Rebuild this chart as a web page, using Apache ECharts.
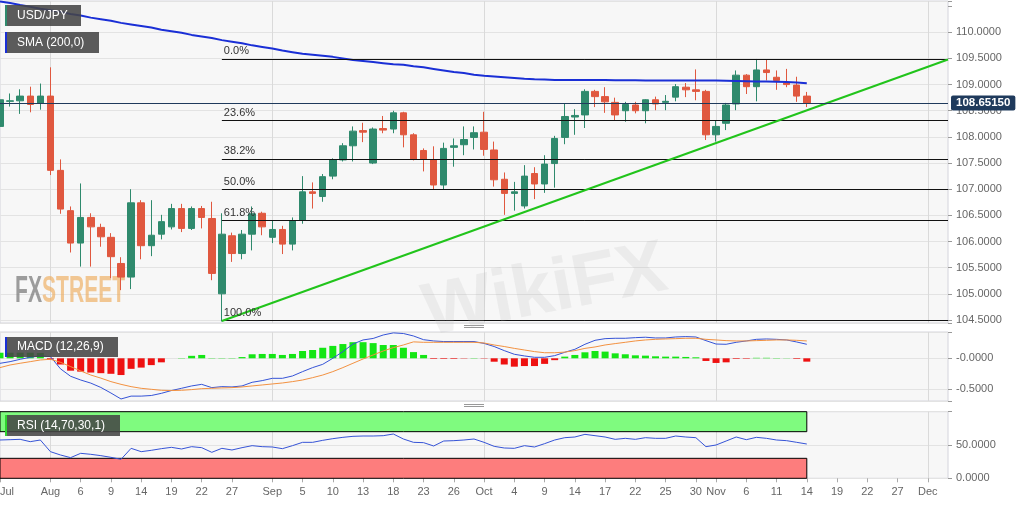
<!DOCTYPE html>
<html>
<head>
<meta charset="utf-8">
<title>USD/JPY</title>
<script src="https://cdn.jsdelivr.net/npm/echarts@6.0.0/dist/echarts.min.js"></script>
<style>
  html, body { margin: 0; padding: 0; background: #fff; }
  #chart { width: 1032px; height: 505px; }
</style>
</head>
<body>
<div id="chart"></div>
<script>
// trading days shown on the x axis (last ones are empty future slots)
var dates = [
  '2019-07-25','2019-07-26','2019-07-29','2019-07-30','2019-07-31',
  '2019-08-01','2019-08-02','2019-08-05','2019-08-06','2019-08-07','2019-08-08','2019-08-09',
  '2019-08-12','2019-08-13','2019-08-14','2019-08-15','2019-08-16','2019-08-19','2019-08-20',
  '2019-08-21','2019-08-22','2019-08-23','2019-08-26','2019-08-27','2019-08-28','2019-08-29','2019-08-30',
  '2019-09-02','2019-09-03','2019-09-04','2019-09-05','2019-09-06','2019-09-09','2019-09-10',
  '2019-09-11','2019-09-12','2019-09-13','2019-09-16','2019-09-17','2019-09-18','2019-09-19',
  '2019-09-20','2019-09-23','2019-09-24','2019-09-25','2019-09-26','2019-09-27','2019-09-30',
  '2019-10-01','2019-10-02','2019-10-03','2019-10-04','2019-10-07','2019-10-08','2019-10-09',
  '2019-10-10','2019-10-11','2019-10-14','2019-10-15','2019-10-16','2019-10-17','2019-10-18',
  '2019-10-21','2019-10-22','2019-10-23','2019-10-24','2019-10-25','2019-10-28','2019-10-29',
  '2019-10-30','2019-10-31',
  '2019-11-01','2019-11-04','2019-11-05','2019-11-06','2019-11-07','2019-11-08','2019-11-11',
  '2019-11-12','2019-11-13','2019-11-14','2019-11-15','2019-11-18','2019-11-19','2019-11-20',
  '2019-11-21','2019-11-22','2019-11-25','2019-11-26','2019-11-27','2019-11-28','2019-11-29',
  '2019-12-02','2019-12-03','2019-12-04'
];

var tickDates = ['2019-07-25','2019-08-01','2019-08-06','2019-08-09','2019-08-14','2019-08-19',
  '2019-08-22','2019-08-27','2019-09-02','2019-09-05','2019-09-10','2019-09-13','2019-09-18',
  '2019-09-23','2019-09-26','2019-10-01','2019-10-04','2019-10-09','2019-10-14','2019-10-17',
  '2019-10-22','2019-10-25','2019-10-30','2019-11-01','2019-11-06','2019-11-11','2019-11-14',
  '2019-11-19','2019-11-22','2019-11-27','2019-12-02'];
var tickLabels = ['Jul','Aug','6','9','14','19','22','27','Sep','5','10','13','18','23','26',
  'Oct','4','9','14','17','22','25','30','Nov','6','11','14','19','22','27','Dec'];
var monthDates = ['2019-08-01','2019-09-02','2019-10-01','2019-11-01','2019-12-02'];

// daily candles, Jul 25 .. Nov 14
var candleOpen = [108.20,108.68,108.69,108.78,108.64,108.78,107.36,106.59,105.97,106.46,
  106.27,106.08,105.58,105.32,106.74,105.92,106.14,106.28,106.63,106.25,
  106.63,106.44,105.00,106.11,105.77,106.14,106.54,106.08,106.23,105.95,
  106.41,106.95,106.86,107.25,107.56,107.83,108.12,107.50,108.16,108.15,
  108.46,108.04,107.74,107.56,107.08,107.80,107.85,107.99,108.09,107.75,
  107.19,106.92,106.68,107.30,107.10,107.49,107.99,108.38,108.42,108.87,
  108.77,108.66,108.50,108.61,108.50,108.71,108.66,108.76,108.95,108.90,
  108.87,108.04,108.26,108.63,109.18,108.96,109.28,109.14,109.03,108.99,108.78];
var candleClose = [108.71,108.69,108.78,108.62,108.78,107.36,106.62,105.97,106.46,106.28,
  106.09,105.71,105.32,106.74,105.92,106.12,106.38,106.63,106.25,106.63,
  106.46,105.39,106.14,105.77,106.14,106.53,106.28,106.23,105.95,106.40,
  106.95,106.92,107.24,107.56,107.83,108.11,108.09,108.15,108.13,108.46,
  108.04,107.57,107.57,107.08,107.78,107.83,107.95,108.08,107.76,107.18,
  106.92,106.95,107.25,107.10,107.48,107.97,108.39,108.41,108.87,108.77,
  108.67,108.42,108.62,108.50,108.71,108.63,108.68,108.96,108.90,108.87,
  108.04,108.20,108.61,109.18,108.96,109.28,109.23,109.08,109.00,108.78,108.65];
var candleLow = [108.04,108.58,108.44,108.47,108.52,107.27,106.53,105.79,105.52,105.52,
  105.90,105.30,105.07,105.09,105.66,105.72,106.04,106.23,106.18,106.22,
  106.25,105.26,104.47,105.61,105.66,105.83,106.12,105.97,105.76,105.83,
  106.34,106.63,106.76,107.19,107.53,107.53,107.90,107.48,108.07,108.07,
  107.80,107.55,107.34,106.99,106.99,107.43,107.65,107.76,107.64,107.05,
  106.51,106.59,106.63,106.81,106.93,107.03,107.86,108.04,108.17,108.57,
  108.46,108.32,108.29,108.45,108.26,108.51,108.51,108.68,108.76,108.70,
  107.94,107.91,108.13,108.51,108.82,108.68,109.08,108.90,108.95,108.67,108.57];
var candleHigh = [108.77,108.83,108.91,108.96,109.02,109.33,107.57,106.67,107.11,106.54,
  106.34,106.16,105.70,107.00,106.79,106.79,106.51,106.72,106.72,106.67,
  106.68,106.76,106.54,106.17,106.22,106.67,106.57,106.41,106.30,106.46,
  107.25,107.13,107.29,107.59,107.88,108.20,108.27,108.18,108.40,108.50,
  108.48,108.07,107.78,107.82,107.89,107.97,108.20,108.20,108.48,107.91,
  107.32,107.14,107.46,107.42,107.65,108.02,108.63,108.53,108.91,108.90,
  108.95,108.75,108.67,108.67,108.72,108.77,108.80,109.01,109.03,109.29,
  108.90,108.32,108.65,109.27,109.20,109.49,109.47,109.27,109.30,109.15,108.86];

var sma200 = [110.59,110.56,110.52,110.49,110.45,110.42,110.39,110.35,110.32,110.28,
  110.25,110.22,110.18,110.15,110.12,110.09,110.05,110.02,109.99,109.95,
  109.92,109.89,109.85,109.82,109.79,109.75,109.72,109.69,109.65,109.62,
  109.59,109.57,109.55,109.53,109.50,109.47,109.45,109.43,109.41,109.39,
  109.38,109.35,109.33,109.30,109.27,109.24,109.22,109.19,109.17,109.155,
  109.14,109.125,109.11,109.10,109.095,109.09,109.09,109.09,109.09,109.09,
  109.09,109.085,109.085,109.085,109.08,109.08,109.08,109.08,109.08,109.08,
  109.08,109.078,109.075,109.07,109.065,109.06,109.057,109.054,109.05,109.04,109.025];

var macdLine = [-0.081,-0.054,-0.016,0.016,0.038,0.027,-0.17,-0.29,-0.35,-0.40,
  -0.47,-0.56,-0.656,-0.61,-0.61,-0.60,-0.565,-0.52,-0.484,-0.446,
  -0.42,-0.473,-0.457,-0.462,-0.446,-0.387,-0.36,-0.323,-0.323,-0.285,
  -0.215,-0.15,-0.097,0.0,0.108,0.23,0.296,0.32,0.376,0.41,
  0.40,0.36,0.30,0.28,0.27,0.27,0.27,0.27,0.24,0.19,
  0.124,0.065,0.038,0.016,0.016,0.043,0.097,0.145,0.226,0.29,
  0.317,0.323,0.323,0.333,0.34,0.328,0.328,0.344,0.35,0.344,
  0.285,0.23,0.226,0.258,0.28,0.306,0.312,0.306,0.296,0.263,0.226];
var macdSignal = [-0.15,-0.108,-0.08,-0.054,-0.027,-0.016,-0.065,-0.134,-0.204,-0.27,
  -0.32,-0.376,-0.42,-0.457,-0.484,-0.50,-0.516,-0.52,-0.516,-0.505,
  -0.49,-0.484,-0.478,-0.473,-0.462,-0.446,-0.43,-0.414,-0.398,-0.376,
  -0.35,-0.312,-0.27,-0.215,-0.15,-0.08,-0.011,0.054,0.118,0.172,
  0.215,0.265,0.258,0.258,0.258,0.258,0.258,0.258,0.247,0.215,
  0.19,0.16,0.134,0.108,0.09,0.09,0.10,0.124,0.16,0.183,
  0.215,0.237,0.258,0.28,0.296,0.306,0.312,0.317,0.323,0.323,
  0.306,0.296,0.285,0.28,0.28,0.285,0.29,0.296,0.296,0.29,0.28];
var macdHist = [0.09,0.09,0.09,0.09,0.085,-0.02,-0.10,-0.20,-0.215,-0.23,
  -0.24,-0.25,-0.27,-0.17,-0.15,-0.11,-0.065,0.0,0.005,0.04,
  0.054,0.005,0.005,0.005,0.02,0.065,0.07,0.07,0.054,0.07,
  0.118,0.134,0.17,0.20,0.23,0.26,0.26,0.245,0.215,0.215,
  0.17,0.10,0.054,-0.01,-0.01,-0.01,-0.005,0.005,-0.005,-0.055,
  -0.10,-0.135,-0.125,-0.125,-0.09,-0.03,0.027,0.054,0.097,0.118,
  0.108,0.08,0.065,0.048,0.043,0.032,0.027,0.027,0.022,0.016,
  -0.043,-0.075,-0.065,-0.01,-0.008,0.008,0.008,0.005,0.003,-0.01,-0.054];

var rsi14 = [57.5,58,58.5,55,57.5,40,35,31,37.5,36,
  34,31.5,28.5,45,40,42,44.5,46.5,44,47.5,
  46,39,45,42.5,46,49,47.5,47,44.5,49,
  54,54,57,59.5,61.5,63,63.5,63.5,64,66.5,
  59,54,53.5,48.5,56,56.5,57.5,59,54,48,
  45.5,45,49,47,52,57.5,61,62,66,64,
  62,58.5,60,58.5,61,60,60,63.5,62,61,
  47.5,50,56,62,58,61.5,60,57.5,56.5,54,51.5];

var fibHigh = 109.49, fibLow = 104.49;
var fibLevels = [0, 23.6, 38.2, 50, 61.8, 100];
var fibStartDate = '2019-08-26';
var trendDates = ['2019-08-26', '2019-12-04'];
var trendValues = [104.48, 109.48];
var lastPrice = 108.6515;

var UP = '#2f8a6d', DOWN = '#e0583f';
var FONT = '"Liberation Sans", Arial, sans-serif';
var GRIDLINE = '#e3e3e3';

var labelOf = {};
for (var i = 0; i < tickDates.length; i++) labelOf[tickDates[i]] = tickLabels[i];
function isTick(idx, v) { return labelOf[v] !== undefined; }
function isMonth(idx, v) { return monthDates.indexOf(v) >= 0; }

var candles = [];
for (var i = 0; i < candleOpen.length; i++) {
    candles.push([candleOpen[i], candleClose[i], candleLow[i], candleHigh[i]]);
}

var lastDate = dates[dates.length - 1];
var marks = [];
fibLevels.forEach(function (p) {
    var lvl = fibHigh - (fibHigh - fibLow) * p / 100;
    marks.push([
        { coord: [fibStartDate, lvl],
          lineStyle: { color: '#111', width: 1, type: 'solid' },
          label: { show: true, position: 'insideStartTop', formatter: p.toFixed(1) + '%',
                   color: '#333', fontSize: 11, distance: 2, padding: 0 } },
        { coord: [lastDate, lvl] }
    ]);
});
marks.push([
    { coord: [trendDates[0], trendValues[0]], lineStyle: { color: '#21c41b', width: 2, type: 'solid' },
      label: { show: false } },
    { coord: [trendDates[1], trendValues[1]] }
]);
marks.push({
    yAxis: lastPrice,
    lineStyle: { color: '#1f3a5c', width: 1, type: 'solid' },
    label: { show: true, position: 'end', formatter: lastPrice.toFixed(5), distance: 3,
             backgroundColor: '#1f3a5c', color: '#fff', fontWeight: 'bold', fontSize: 11.5,
             padding: [2, 5, 1, 5], borderRadius: 2 }
});

function xAxisFor(g, bottom) {
    return {
        type: 'category', gridIndex: g, data: dates, boundaryGap: false,
        axisLine: { show: false },
        axisTick: bottom ? { show: true, interval: isTick, length: 4, lineStyle: { color: '#aaa' } } : { show: false },
        axisLabel: bottom ? { show: true, interval: isTick, color: '#666', fontSize: 11, margin: 8,
                              alignMinLabel: 'left',
                              formatter: function (v) { return labelOf[v] || ''; } } : { show: false },
        splitLine: { show: true, interval: isMonth, lineStyle: { color: '#dadada', width: 1 } }
    };
}

function gridFor(top, height) {
    return { left: 0, right: 84, top: top, height: height, show: true,
             backgroundColor: '#f7f7f7', borderColor: '#d4d4dc', borderWidth: 1,
             containLabel: false, outerBoundsMode: 'none' };
}

// legend-like caption box drawn on top of the panels
function labelBox(x, y, w, h, strip, text) {
    return [
        { type: 'rect', z: 100, silent: true, shape: { x: x, y: y, width: w, height: h },
          style: { fill: 'rgba(70,70,70,0.88)' } },
        { type: 'rect', z: 101, silent: true, shape: { x: x, y: y, width: 2, height: h },
          style: { fill: strip } },
        { type: 'text', z: 102, silent: true, x: x + 12, y: y + h / 2,
          style: { text: text, fill: '#fff', fontSize: 12, fontFamily: FONT, verticalAlign: 'middle' } }
    ];
}

var graphics = [
    // FXStreet watermark behind the candles
    { type: 'text', x: 15, y: 292, scaleX: 0.57, z: 1, silent: true,
      style: { text: '{a|FX}{b|STREET}', verticalAlign: 'middle',
               rich: { a: { fill: 'rgba(125,125,125,0.75)', fontSize: 37, fontWeight: 'bold', fontFamily: FONT },
                       b: { fill: 'rgba(238,172,92,0.65)', fontSize: 37, fontWeight: 'bold', fontFamily: FONT } } } },
    // panel resize handles
    { type: 'line', z: 50, shape: { x1: 464, y1: 325.5, x2: 484, y2: 325.5 }, style: { stroke: '#999', lineWidth: 1 } },
    { type: 'line', z: 50, shape: { x1: 464, y1: 327.5, x2: 484, y2: 327.5 }, style: { stroke: '#999', lineWidth: 1 } },
    { type: 'line', z: 50, shape: { x1: 464, y1: 404.5, x2: 484, y2: 404.5 }, style: { stroke: '#999', lineWidth: 1 } },
    { type: 'line', z: 50, shape: { x1: 464, y1: 406.5, x2: 484, y2: 406.5 }, style: { stroke: '#999', lineWidth: 1 } },
    // WikiFX overlay watermark
    { type: 'text', x: 545, y: 292, rotation: 0.19, z: 120, silent: true,
      style: { text: 'WikiFX', align: 'center', verticalAlign: 'middle',
               fill: 'rgba(175,175,175,0.17)', fontSize: 74, fontWeight: 'bold', fontFamily: FONT } }
].concat(
    labelBox(5, 5, 76, 21, UP, 'USD/JPY'),
    labelBox(5, 32, 94, 21, '#1a2fd6', 'SMA (200,0)'),
    labelBox(5, 337, 113, 20, '#1a2fd6', 'MACD (12,26,9)'),
    labelBox(5, 415, 115, 21, '#2fd32f', 'RSI (14,70,30,1)')
);

// main price panel split lines: ticks run 104.442(edge), 104.5 ... 110.5, 110.598(edge);
// the 110.5 line (index 13) is not drawn in the original, so it gets a transparent colour
var mainLineColors = [];
for (var i = 0; i < 15; i++) mainLineColors.push(i === 13 ? 'rgba(0,0,0,0)' : GRIDLINE);

var myChart = echarts.init(document.getElementById('chart'));

var option = {
    animation: false,
    backgroundColor: '#fff',
    textStyle: { fontFamily: FONT },
    grid: [gridFor(1, 322), gridFor(332, 69), gridFor(411.7, 66.6)],
    xAxis: [xAxisFor(0, false), xAxisFor(1, false), xAxisFor(2, true)],
    yAxis: [
        { type: 'value', gridIndex: 0, position: 'right', min: 104.442, max: 110.598,
          minInterval: 0.5, maxInterval: 0.5, splitNumber: 12,
          axisLine: { show: false },
          axisTick: { show: true, length: 4, lineStyle: { color: '#999' } },
          axisLabel: { color: '#666', fontSize: 11, margin: 8,
                       formatter: function (v) {
                           if (Math.abs(v * 2 - Math.round(v * 2)) > 1e-6 || v > 110.2 || v < 104.48) return '';
                           return v.toFixed(4);
                       } },
          splitLine: { show: true, lineStyle: { color: mainLineColors } } },
        { type: 'value', gridIndex: 1, position: 'right', min: -0.6887, max: 0.4242,
          minInterval: 0.5, maxInterval: 0.5, splitNumber: 2,
          axisLine: { show: false },
          axisTick: { show: true, length: 4, lineStyle: { color: '#999' } },
          axisLabel: { color: '#666', fontSize: 11, margin: 8,
                       formatter: function (v) {
                           if (Math.abs(v) < 1e-9) return '-0.0000';
                           if (Math.abs(v + 0.5) < 1e-9) return '-0.5000';
                           return '';
                       } },
          splitLine: { show: true, lineStyle: { color: GRIDLINE } } },
        { type: 'value', gridIndex: 2, position: 'right', min: 0, max: 100, interval: 50,
          axisLine: { show: false },
          axisTick: { show: true, length: 4, lineStyle: { color: '#999' } },
          axisLabel: { color: '#666', fontSize: 11, margin: 8,
                       formatter: function (v) { return v >= 100 ? '' : v.toFixed(4); } },
          splitLine: { show: true, lineStyle: { color: GRIDLINE } } }
    ],
    series: [
        {
            name: 'USD/JPY', type: 'candlestick', xAxisIndex: 0, yAxisIndex: 0,
            data: candles, barWidth: 7, silent: true,
            itemStyle: { color: UP, color0: DOWN, borderColor: UP, borderColor0: DOWN, borderWidth: 1 },
            markLine: { symbol: ['none', 'none'], silent: true, animation: false, data: marks }
        },
        {
            name: 'SMA (200,0)', type: 'line', xAxisIndex: 0, yAxisIndex: 0,
            data: sma200, showSymbol: false, symbol: 'none', silent: true,
            lineStyle: { color: '#1a2fd6', width: 2 }, z: 3
        },
        {
            name: 'Histogram', type: 'bar', xAxisIndex: 1, yAxisIndex: 1,
            data: macdHist, barWidth: 7, silent: true,
            itemStyle: { color: function (p) { return p.value >= 0 ? '#14e614' : '#ee1111'; } }
        },
        {
            name: 'MACD', type: 'line', xAxisIndex: 1, yAxisIndex: 1,
            data: macdLine, symbol: 'none', silent: true,
            lineStyle: { color: '#3553d6', width: 1 }
        },
        {
            name: 'Signal', type: 'line', xAxisIndex: 1, yAxisIndex: 1,
            data: macdSignal, symbol: 'none', silent: true,
            lineStyle: { color: '#f29140', width: 1 }
        },
        {
            name: 'RSI', type: 'line', xAxisIndex: 2, yAxisIndex: 2,
            data: rsi14, symbol: 'none', silent: true, z: 4,
            lineStyle: { color: '#3553d6', width: 1 },
            markArea: {
                silent: true,
                data: [
                    [{ xAxis: dates[0], yAxis: 70, itemStyle: { color: '#7ffb7f', borderColor: '#000', borderWidth: 1 } },
                     { xAxis: dates[candles.length - 1], yAxis: 100 }],
                    [{ xAxis: dates[0], yAxis: 0, itemStyle: { color: '#fd7d7d', borderColor: '#000', borderWidth: 1 } },
                     { xAxis: dates[candles.length - 1], yAxis: 30 }]
                ]
            }
        }
    ],
    graphic: graphics
};

myChart.setOption(option);
</script>
</body>
</html>
